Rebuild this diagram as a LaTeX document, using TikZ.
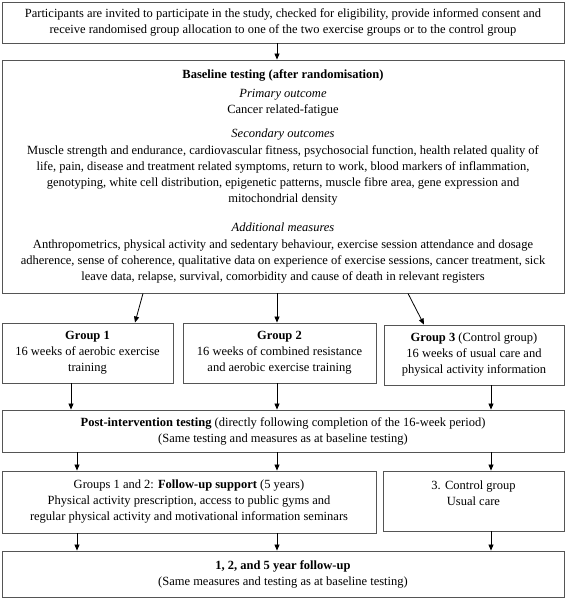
\documentclass[tikz,border=0pt]{standalone}
\usepackage{fontspec}
\setmainfont{Liberation Serif}
\usetikzlibrary{arrows.meta}
\definecolor{boxgray}{HTML}{555555}
\begin{document}
\begin{tikzpicture}[x=1pt,y=-1pt,
  box/.style={draw=boxgray, line width=0.9pt, inner sep=0pt, align=center,
    font=\fontsize{12.5}{16}\selectfont},
  arr/.style={-{Triangle[length=6pt,width=5pt]}, line width=0.8pt, black}]
\useasboundingbox (0,0) rectangle (567,598);

\node[box, minimum width=562pt, minimum height=41pt] (b1) at (283,22.5)
  {Participants are invited to participate in the study, checked for eligibility, provide informed consent and\\
   receive randomised group allocation to one of the two exercise groups or to the control group};

\node[box, minimum width=562pt, minimum height=233pt] (base) at (283,176.5)
  {\textbf{Baseline testing (after randomisation)}\\[3pt]
   \textit{Primary outcome}\\
   Cancer related-fatigue\\[8pt]
   \textit{Secondary outcomes}\\[1pt]
   Muscle strength and endurance, cardiovascular fitness, psychosocial function, health related quality of\\
   life, pain, disease and treatment related symptoms, return to work, blood markers of inflammation,\\
   genotyping, white cell distribution, epigenetic patterns, muscle fibre area, gene expression and\\
   mitochondrial density\\[13pt]
   \textit{Additional measures}\\[1pt]
   Anthropometrics, physical activity and sedentary behaviour, exercise session attendance and dosage\\
   adherence, sense of coherence, qualitative data on experience of exercise sessions, cancer treatment, sick\\
   leave data, relapse, survival, comorbidity and cause of death in relevant registers};

\node[box, minimum width=171pt, minimum height=60pt] (g1) at (87.5,353)
  {\textbf{Group 1}\\16 weeks of aerobic exercise\\training};
\node[box, minimum width=193pt, minimum height=60pt] (g2) at (279.5,353)
  {\textbf{Group 2}\\16 weeks of combined resistance\\and aerobic exercise training};
\node[box, minimum width=180pt, minimum height=60pt] (g3) at (474,355)
  {\textbf{Group 3} (Control group)\\16 weeks of usual care and\\physical activity information};

\node[box, minimum width=562pt, minimum height=42pt] (post) at (283,431)
  {\textbf{Post-intervention testing} (directly following completion of the 16-week period)\\
   (Same testing and measures as at baseline testing)};

\node[box, minimum width=374pt, minimum height=62pt] (fol) at (189,502)
  {Groups 1 and 2: \textbf{Follow-up support} (5 years)\\
   Physical activity prescription, access to public gyms and\\
   regular physical activity and motivational information seminars};
\node[box, minimum width=181pt, minimum height=60pt] (ctl) at (473.5,501)
  {3. Control group\\Usual care\\\mbox{}};

\node[box, minimum width=562pt, minimum height=46pt] (fin) at (283,574)
  {\textbf{1, 2, and 5 year follow-up}\\
   (Same measures and testing as at baseline testing)};

\coordinate (c71) at (71,0);
\coordinate (c77) at (77,0);
\coordinate (c135) at (135,0);
\coordinate (c143) at (143,0);
\coordinate (c277) at (277,0);
\coordinate (c408) at (408,0);
\coordinate (c424) at (424,0);
\coordinate (c491) at (491,0);

\draw[arr] (b1.south -| c277) -- (base.north -| c277);
\draw[arr] (base.south -| c143) -- (g1.north -| c135);
\draw[arr] (base.south -| c277) -- (g2.north -| c277);
\draw[arr] (base.south -| c408) -- (g3.north -| c424);
\draw[arr] (g1.south -| c71) -- (post.north -| c71);
\draw[arr] (g2.south -| c277) -- (post.north -| c277);
\draw[arr] (g3.south -| c491) -- (post.north -| c491);
\draw[arr] (post.south -| c77) -- (fol.north -| c77);
\draw[arr] (post.south -| c277) -- (fol.north -| c277);
\draw[arr] (post.south -| c491) -- (ctl.north -| c491);
\draw[arr] (fol.south -| c77) -- (fin.north -| c77);
\draw[arr] (fol.south -| c277) -- (fin.north -| c277);
\draw[arr] (ctl.south -| c491) -- (fin.north -| c491);
\end{tikzpicture}
\end{document}
